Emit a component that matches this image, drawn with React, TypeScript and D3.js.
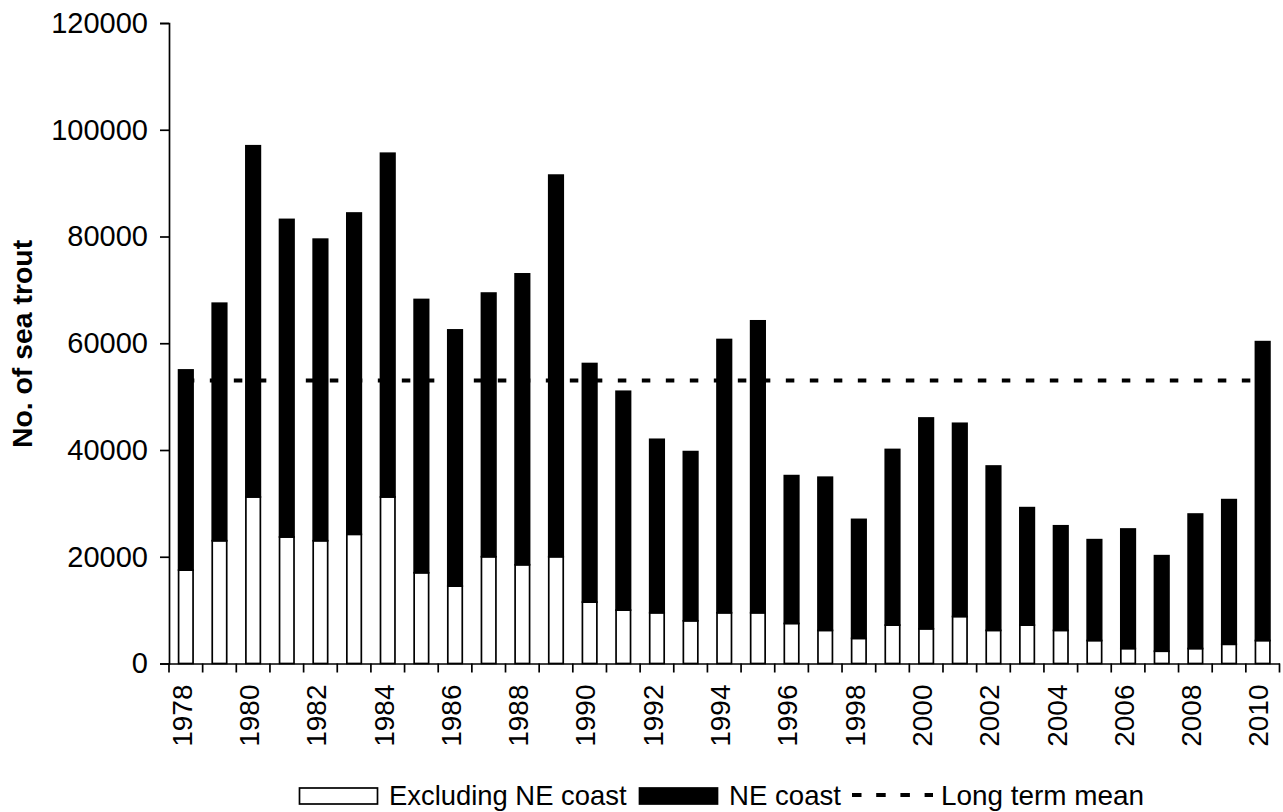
import React, { useRef, useEffect } from 'react';
import { select, scaleBand, scaleLinear, axisLeft, axisBottom, stack } from 'd3';

const years = ['1978','1979','1980','1981','1982','1983','1984','1985','1986','1987','1988','1989','1990','1991','1992','1993','1994','1995','1996','1997','1998','1999','2000','2001','2002','2003','2004','2005','2006','2007','2008','2009','2010'];
const excludingNE = [17500,23000,31200,23700,23000,24200,31200,17000,14500,20000,18500,20000,11500,10000,9500,8000,9500,9500,7500,6200,4700,7200,6500,8800,6200,7200,6200,4300,2800,2300,2800,3600,4300];
const neCoast = [37500,44500,65800,59500,56500,60200,64400,51200,48000,49400,54500,71500,44700,41000,32500,31700,51200,54700,27700,28700,22300,32900,39500,36200,30800,22000,19600,18900,22400,17900,25200,27100,56000];
const longTermMean = 53000;
const yTicks = [0, 20000, 40000, 60000, 80000, 100000, 120000];
const FONT = '"Liberation Sans", Arial, sans-serif';

const margin = { left: 169, right: 1279.5, top: 23, bottom: 663.5 };

const App: React.FC = () => {
  const svgRef = useRef<SVGSVGElement | null>(null);

  useEffect(() => {
    if (!svgRef.current) return;
    const svg = select(svgRef.current);
    svg.selectAll('*').remove();

    const x = scaleBand<string>().domain(years).range([margin.left, margin.right]).paddingInner(0.57).paddingOuter(0.285);
    const y = scaleLinear().domain([0, 120000]).range([margin.bottom, margin.top]);

    const rows = years.map((year, i) => ({ year, excl: excludingNE[i], ne: neCoast[i] }));
    const layers = stack<any>().keys(['excl', 'ne'])(rows);
    const fills = ['#fff', '#000'];

    // mean line goes under the bars
    svg.append('line')
      .attr('x1', x(years[0])! + x.bandwidth() / 2)
      .attr('x2', x(years[years.length - 1])! + x.bandwidth() / 2)
      .attr('y1', y(longTermMean)).attr('y2', y(longTermMean))
      .attr('stroke', '#000').attr('stroke-width', 4).attr('stroke-dasharray', '8.5 15.5');

    layers.forEach((layer, k) => {
      svg.append('g').selectAll('rect').data(layer).enter().append('rect')
        .attr('x', d => x(d.data.year)!)
        .attr('y', d => y(d[1]))
        .attr('width', x.bandwidth())
        .attr('height', d => y(d[0]) - y(d[1]))
        .attr('fill', fills[k])
        .attr('stroke', '#000')
        .attr('stroke-width', 1.7);
    });

    const yAxis = axisLeft(y).tickValues(yTicks).tickFormat(d => String(d)).tickSize(9).tickPadding(12);
    const gy = svg.append('g').attr('transform', `translate(${margin.left},0)`).call(yAxis);
    gy.selectAll('text').attr('font-size', 29).attr('font-family', FONT).attr('fill', '#000');

    const xAxis = axisBottom(x).tickSize(0).tickValues(years.filter((_, i) => i % 2 === 0));
    const gx = svg.append('g').attr('transform', `translate(0,${margin.bottom})`).call(xAxis);
    gx.selectAll('text')
      .attr('font-size', 28).attr('font-family', FONT).attr('fill', '#000')
      .attr('transform', 'rotate(-90)')
      .attr('text-anchor', 'end')
      .attr('x', -21).attr('y', -4).attr('dy', '0.35em');

    // ticks sit between the categories
    const step = x.step();
    svg.append('g').selectAll('line').data([...years, 'end']).enter().append('line')
      .attr('x1', (_, i) => margin.left + i * step).attr('x2', (_, i) => margin.left + i * step)
      .attr('y1', margin.bottom).attr('y2', margin.bottom + 9)
      .attr('stroke', '#000').attr('stroke-width', 1.7);

    svg.selectAll('.domain').attr('stroke-width', 1.7);
    svg.selectAll('.tick line').attr('stroke-width', 1.7);

    svg.append('text')
      .attr('transform', 'translate(32,344) rotate(-90)')
      .attr('text-anchor', 'middle')
      .attr('font-family', FONT).attr('font-size', 28.4).attr('font-weight', 'bold')
      .text('No. of sea trout');

    // legend
    const legendY = 795;
    svg.append('rect').attr('x', 299.5).attr('y', 788).attr('width', 78).attr('height', 16)
      .attr('fill', '#fff').attr('stroke', '#000').attr('stroke-width', 1.7);
    svg.append('rect').attr('x', 639.5).attr('y', 788).attr('width', 78).attr('height', 16)
      .attr('fill', '#000').attr('stroke', '#000').attr('stroke-width', 1.7);
    svg.append('line').attr('x1', 852).attr('x2', 933).attr('y1', legendY).attr('y2', legendY)
      .attr('stroke', '#000').attr('stroke-width', 4).attr('stroke-dasharray', '9.5 14.7');
    const legendText = [['Excluding NE coast', 389, 27.4], ['NE coast', 729, 27.6], ['Long term mean', 941, 27.9]] as const;
    legendText.forEach(([label, lx, size]) => {
      svg.append('text').attr('x', lx).attr('y', 805)
        .attr('font-family', FONT).attr('font-size', size).text(label);
    });
  }, []);

  return <svg ref={svgRef} width={1283} height={812} style={{ position: 'absolute', left: 0, top: 0, background: '#fff' }} />;
};

export default App;
